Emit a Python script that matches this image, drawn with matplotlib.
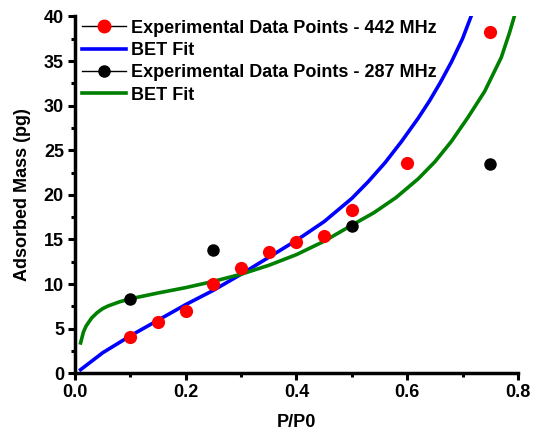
import matplotlib.pyplot as plt
from matplotlib.lines import Line2D
from matplotlib.ticker import MultipleLocator

plt.rcParams['font.family'] = ['Liberation Sans', 'DejaVu Sans']
plt.rcParams['font.weight'] = 'bold'

# Experimental data
x_442 = [0.10, 0.15, 0.20, 0.25, 0.30, 0.35, 0.40, 0.45, 0.50, 0.60, 0.75]
m_442 = [4.1, 5.8, 7.0, 10.0, 11.8, 13.6, 14.7, 15.35, 18.3, 23.6, 38.3]
x_287 = [0.10, 0.25, 0.50, 0.75]
m_287 = [8.3, 13.85, 16.55, 23.5]

# BET fit curves
fit442_x = [0.01, 0.05, 0.10, 0.15, 0.20, 0.25, 0.30, 0.35, 0.40, 0.45, 0.50,
            0.53, 0.56, 0.59, 0.62, 0.64, 0.66, 0.68, 0.70, 0.716]
fit442_y = [0.4, 2.3, 4.2, 5.95, 7.7, 9.3, 11.1, 13.0, 14.9, 17.0, 19.6,
            21.5, 23.6, 26.0, 28.6, 30.5, 32.6, 34.9, 37.5, 40.1]
fit287_x = [0.01, 0.015, 0.02, 0.03, 0.04, 0.05, 0.06, 0.08, 0.10, 0.15, 0.20,
            0.25, 0.30, 0.35, 0.40, 0.45, 0.50, 0.54, 0.58, 0.62, 0.65, 0.68,
            0.71, 0.74, 0.77, 0.785, 0.794]
fit287_y = [3.4, 4.6, 5.3, 6.2, 6.8, 7.25, 7.55, 8.0, 8.35, 9.0, 9.6,
            10.3, 11.1, 12.1, 13.3, 14.8, 16.6, 18.0, 19.7, 21.8, 23.7, 26.0,
            28.7, 31.6, 35.4, 38.2, 40.1]

fig = plt.figure(figsize=(5.4, 4.33), dpi=100)
ax = fig.add_axes([0.139, 0.138, 0.820, 0.824])

ax.plot(fit442_x, fit442_y, color='#0000FF', lw=2.6, zorder=2)
ax.plot(fit287_x, fit287_y, color='#008000', lw=2.6, zorder=2)
ax.plot(x_442, m_442, 'o', color='#FF0000', ms=9.5, mec='none', zorder=3)
ax.plot(x_287, m_287, 'o', color='black', ms=9, mec='none', zorder=3)

ax.set_xlim(0, 0.8)
ax.set_ylim(0, 40)
ax.xaxis.set_major_locator(MultipleLocator(0.2))
ax.xaxis.set_minor_locator(MultipleLocator(0.1))
ax.yaxis.set_major_locator(MultipleLocator(5))
ax.yaxis.set_minor_locator(MultipleLocator(2.5))
ax.xaxis.set_major_formatter(plt.FuncFormatter(lambda v, p: f'{v:.1f}'))

for s in ['top', 'right']:
    ax.spines[s].set_visible(False)
for s in ['left', 'bottom']:
    ax.spines[s].set_linewidth(2.5)
ax.tick_params(which='major', direction='out', length=5, width=2.2, labelsize=13, pad=3)
ax.tick_params(which='minor', direction='out', length=3, width=2.2)

ax.set_xlabel('P/P0', fontsize=13, fontweight='bold', labelpad=9)
ax.set_ylabel('Adsorbed Mass (pg)', fontsize=13, fontweight='bold', labelpad=9)

handles = [
    Line2D([], [], color='black', lw=1, marker='o', mfc='#FF0000', mec='#FF0000', ms=9),
    Line2D([], [], color='#0000FF', lw=2.6),
    Line2D([], [], color='black', lw=1, marker='o', mfc='black', mec='black', ms=8),
    Line2D([], [], color='#008000', lw=2.6),
]
labels = ['Experimental Data Points - 442 MHz', 'BET Fit',
          'Experimental Data Points - 287 MHz', 'BET Fit']
leg = ax.legend(handles, labels, loc='upper left', frameon=False,
                bbox_to_anchor=(-0.02, 1.037), handlelength=2.4, handletextpad=0.28,
                labelspacing=0.3, prop={'size': 13, 'weight': 'bold'})

fig.savefig('out.png', dpi=100)
